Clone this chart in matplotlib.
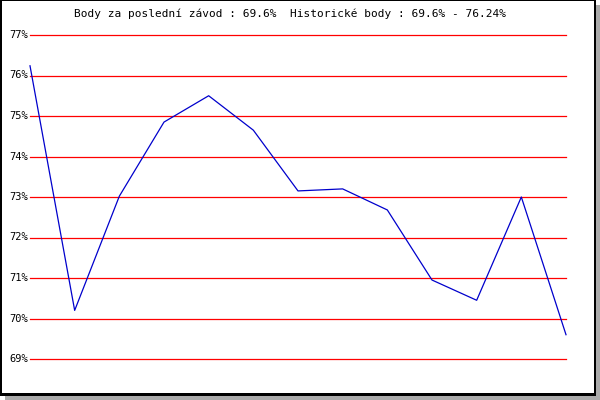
import matplotlib.pyplot as plt
from matplotlib.patches import Rectangle

# --- data ---
races = list(range(13))
points = [76.24, 70.2, 73.02, 74.85, 75.5, 74.65, 73.15, 73.2, 72.68,
          70.95, 70.45, 73.0, 69.6]
ticks = [69, 70, 71, 72, 73, 74, 75, 76, 77]
title = "Body za poslední závod : 69.6%  Historické body : 69.6% - 76.24%"

W, H = 600, 400
fig = plt.figure(figsize=(W / 100, H / 100), dpi=100)
fig.patch.set_facecolor("white")

# frame with grey drop shadow
def px(x0, y0, w, h, **kw):
    fig.patches.append(Rectangle((x0 / W, 1 - (y0 + h) / H), w / W, h / H,
                                 transform=fig.transFigure, figure=fig, **kw))

px(5, 396, 595, 4, color="#aaaaaa", lw=0)
px(596, 5, 4, 395, color="#aaaaaa", lw=0)
px(0, 0, 596, 1, color="black", lw=0)
px(0, 0, 2, 396, color="black", lw=0)
px(594, 0, 2, 396, color="black", lw=0)
px(0, 393, 596, 3, color="black", lw=0)

ax = fig.add_axes([30 / W, 1 - 359 / H, 536 / W, 324 / H])
ax.set_xlim(races[0], races[-1])
ax.set_ylim(min(ticks), max(ticks))
ax.axis("off")

for t in ticks:
    ax.axhline(t, color="#ff0000", lw=0.9, zorder=1, clip_on=False)
    ax.text(-0.05, t, f"{t}%", ha="right", va="center",
            fontsize=7.5, family="DejaVu Sans Mono")

ax.plot(races, points, color="#0000cc", lw=0.9, zorder=2, clip_on=False)

fig.text(290 / W, 1 - 14 / H, title, ha="center", va="center",
         fontsize=8, family="DejaVu Sans Mono")

fig.savefig("out.png", dpi=100)
